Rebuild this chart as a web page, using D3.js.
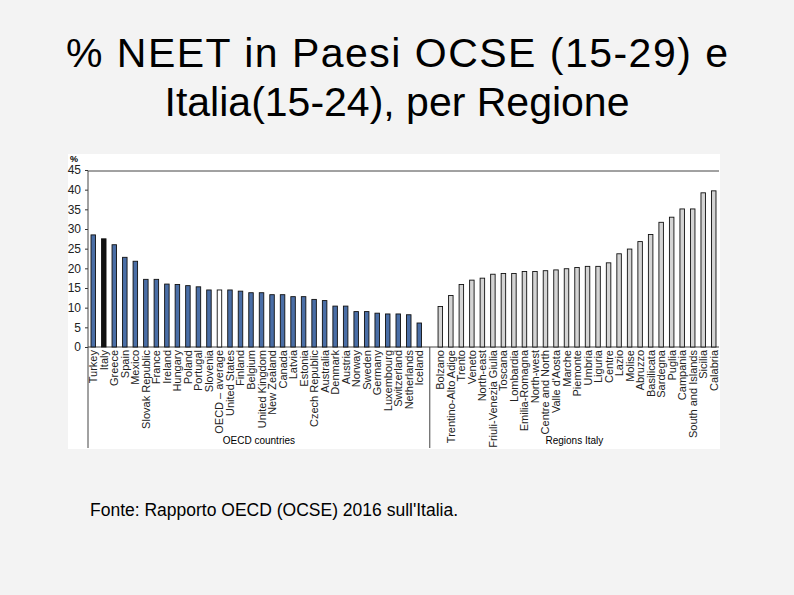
<!DOCTYPE html><html><head><meta charset="utf-8">
<script src="https://cdn.jsdelivr.net/npm/d3@7"></script>
<style>body{margin:0;background:#f3f3f3;font-family:"Liberation Sans",Arial,sans-serif}</style></head><body>
<svg id="c" width="794" height="595"></svg>
<script>
const oecdNames=["Turkey","Italy","Greece","Spain","Mexico","Slovak Republic","France","Ireland","Hungary","Poland","Portugal","Slovenia","OECD – average","United States","Finland","Belgium","United Kingdom","New Zealand","Canada","Latvia","Estonia","Czech Republic","Australia","Denmark","Austria","Norway","Sweden","Germany","Luxembourg","Switzerland","Netherlands","Iceland"];
const oecdValues=[28.5,27.5,26,22.8,21.8,17.2,17.2,16,15.9,15.6,15.3,14.5,14.5,14.5,14.2,13.8,13.8,13.3,13.3,12.8,12.8,12.1,11.8,10.4,10.4,9,9,8.6,8.4,8.4,8.2,6.1];
const regionNames=["Bolzano","Trentino-Alto Adige","Trento","Veneto","North-east","Friuli-Venezia Giulia","Toscana","Lombardia","Emilia-Romagna","North-west","Centre and North","Valle d'Aosta","Marche","Piemonte","Umbria","Liguria","Centre","Lazio","Molise","Abruzzo","Basilicata","Sardegna","Puglia","Campania","South and Islands","Sicilia","Calabria"];
const regionValues=[10.3,13.1,15.9,17,17.5,18.5,18.7,18.7,19.2,19.2,19.4,19.6,19.9,20.2,20.5,20.5,21.4,23.7,24.9,26.8,28.6,31.7,33,35.1,35.1,39.2,39.7];
const yTicks=[0,5,10,15,20,25,30,35,40,45];

const svg=d3.select("#c");
svg.append("text").attr("x",397).attr("y",67).attr("text-anchor","middle").attr("font-size",41).attr("textLength",662).text("% NEET in Paesi OCSE (15-29) e");
svg.append("text").attr("x",397).attr("y",116).attr("text-anchor","middle").attr("font-size",41).text("Italia(15-24), per Regione");
svg.append("rect").attr("x",68).attr("y",154).attr("width",652).attr("height",295).attr("fill","#fff");
svg.append("text").attr("x",90).attr("y",516).attr("font-size",17.5).text("Fonte: Rapporto OECD (OCSE) 2016 sull'Italia.");

const data=oecdNames.map((n,i)=>({n,v:oecdValues[i],g:"o"})).concat([{n:"__gap",v:null}]).concat(regionNames.map((n,i)=>({n,v:regionValues[i],g:"r"})));
const x=d3.scaleBand().domain(data.map(d=>d.n)).range([88,719]);
const y=d3.scaleLinear().domain([0,45]).range([347,170]);
const g=svg.append("g").attr("font-family","'Liberation Sans Narrow','Liberation Sans',Arial").attr("font-size",10);
g.append("g").attr("transform","translate(88,0)").call(d3.axisLeft(y).tickValues(yTicks).tickSize(3)).call(a=>{a.select(".domain").remove();a.selectAll("line").attr("stroke","#333");a.selectAll("text").attr("font-size",12).attr("fill","#222").attr("x",-7);});
g.append("text").attr("x",70).attr("y",162).attr("font-size",9).attr("font-weight","bold").text("%");
g.append("line").attr("x1",88).attr("x2",719).attr("y1",171).attr("y2",171).attr("stroke","#444");
g.append("line").attr("x1",88).attr("x2",719).attr("y1",y(0)).attr("y2",y(0)).attr("stroke","#444");
g.append("line").attr("x1",88).attr("x2",88).attr("y1",171).attr("y2",448).attr("stroke","#444");
const dx=x("__gap")+x.bandwidth()/2;
g.append("line").attr("x1",dx).attr("x2",dx).attr("y1",y(0)).attr("y2",448).attr("stroke","#444");
const bw=4.5;
g.selectAll("rect.b").data(data.filter(d=>d.v!=null)).join("rect").attr("class","b")
 .attr("x",d=>x(d.n)+x.bandwidth()/2-bw/2).attr("width",bw)
 .attr("y",d=>y(d.v)).attr("height",d=>y(0)-y(d.v))
 .attr("fill",d=>d.g==="r"?"#d4d4d4":d.n==="Italy"?"#111":d.n.startsWith("OECD")?"#fff":"#4a6ea6")
 .attr("stroke","#111").attr("stroke-width",0.9);
g.selectAll("text.l").data(data.filter(d=>d.v!=null)).join("text").attr("class","l")
 .attr("transform",d=>`translate(${x(d.n)+x.bandwidth()/2+4},${y(0)+3}) rotate(-90)`)
 .attr("text-anchor","end").attr("font-size",11).attr("fill","#222").text(d=>d.n);
g.append("text").attr("x",(88+dx)/2).attr("y",444).attr("text-anchor","middle").attr("font-size",10).text("OECD countries");
g.append("text").attr("x",(dx+719)/2).attr("y",444).attr("text-anchor","middle").attr("font-size",10).text("Regions Italy");
</script></body></html>
